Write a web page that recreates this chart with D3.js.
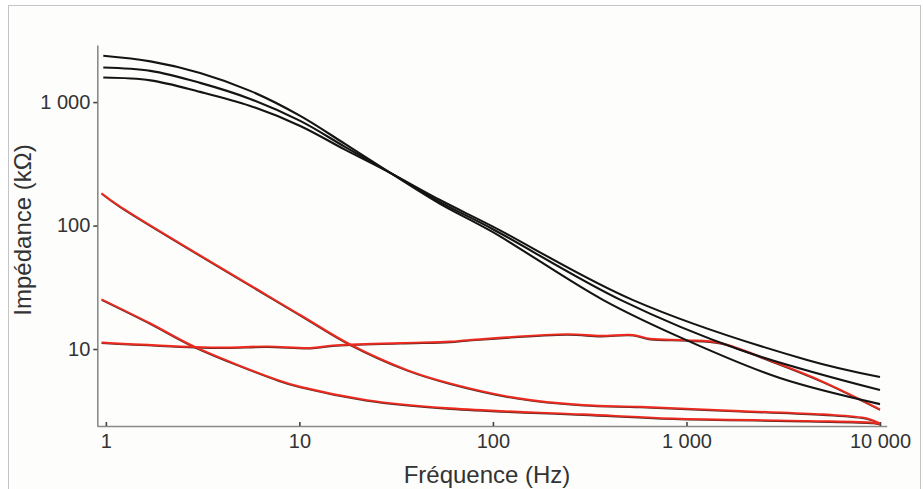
<!DOCTYPE html>
<html lang="fr">
  <head>
    <meta charset="utf-8" />
    <script src="https://d3js.org/d3.v7.min.js"></script>
    <style>
      body { margin: 0; background: #ffffff; }
      svg { display: block; }
      .tick text { font-family: 'Liberation Sans', Arial, sans-serif; fill: #333; }
      .axis-title { font-family: 'Liberation Sans', Arial, sans-serif; fill: #333; }
    </style>
  </head>
  <body>
    <svg id="chart" width="923" height="489"></svg>
    <script>
      // Fréquence (Hz) / impédance (kΩ)
      const xTicks = [1, 10, 100, 1000, 10000];
      const yTicks = [10, 100, 1000];

      // black curves
      const blackA = [
        [0.97, 2370], [1.70, 2138], [3.07, 1724], [5.57, 1233], [10.1, 773],
        [17.2, 458], [29.5, 267], [53.3, 150], [100, 88.4], [372, 24.9],
        [1000, 11.8], [3040, 5.82], [10000, 3.58]
      ];
      const blackB = [
        [0.97, 1905], [1.70, 1790], [3.07, 1431], [5.57, 1061], [10.1, 704],
        [17.2, 434], [29.5, 267], [53.3, 155], [100, 93.4], [459, 24.9],
        [1903, 9.82], [10000, 4.65]
      ];
      const blackC = [
        [0.97, 1580], [1.70, 1500], [3.07, 1210], [5.57, 931], [10.1, 641],
        [17.2, 412], [29.5, 267], [53.3, 161], [100, 98.1], [530, 24.9],
        [4200, 8.15], [10000, 5.93]
      ];

      // red curves
      const redSteep = [
        [0.95, 183], [1.19, 142], [10.1, 18.9], [18.3, 10.9], [36.1, 6.76],
        [60.1, 5.27], [133, 4.01], [293, 3.52], [577, 3.41], [1897, 3.15],
        [5090, 2.96], [8600, 2.74], [10000, 2.5]
      ];
      const redLow = [
        [0.95, 25.3], [1.69, 16.2], [2.89, 10.4], [7.77, 5.6], [10.1, 4.95],
        [22.4, 3.86], [60.1, 3.31], [293, 2.96], [855, 2.74], [4210, 2.62],
        [9230, 2.53], [10000, 2.47]
      ];
      const redFlat = [
        [0.95, 11.3], [2.89, 10.4], [4.2, 10.3], [6.82, 10.5], [11.4, 10.2],
        [14.9, 10.7], [33.3, 11.2], [60.1, 11.5], [73.6, 11.8], [242, 13.2],
        [359, 12.8], [531, 13.0], [650, 12.1], [1000, 11.8], [1496, 11.2],
        [2810, 7.89], [5090, 5.43], [10000, 3.25]
      ];

      const blackSeries = [blackA, blackB, blackC];
      const redSeries = [redSteep, redLow, redFlat];

      const svg = d3.select('#chart');

      // frame of the picture
      svg.append('rect')
        .attr('x', 8.5).attr('y', 5.5)
        .attr('width', 912).attr('height', 490)
        .attr('fill', '#fdfdfb')
        .attr('stroke', '#c4c4c4')
        .attr('stroke-width', 1);

      const x = d3.scaleLog().domain([0.9, 10830]).range([97, 886.7]);
      const y = d3.scaleLog().domain([2.38, 2900]).range([426, 45]);

      const fmt = d3.formatLocale({ decimal: ',', thousands: ' ', grouping: [3], currency: ['', ''] }).format(',');

      const line = d3.line()
        .x(d => x(d[0]))
        .y(d => y(d[1]))
        .curve(d3.curveCatmullRom.alpha(0.5));

      // x axis, ticks pointing inward
      const gx = svg.append('g')
        .attr('transform', 'translate(0,426)')
        .call(d3.axisBottom(x).tickValues(xTicks).tickFormat(fmt).tickSizeInner(-4).tickSizeOuter(0).tickPadding(8));
      gx.select('.domain').attr('stroke', '#8a8a8a').attr('stroke-width', 1.6);
      gx.selectAll('.tick line').attr('stroke', '#444').attr('stroke-width', 1.6);
      gx.selectAll('.tick text').attr('font-size', 20);

      // y axis
      const gy = svg.append('g')
        .attr('transform', 'translate(97.3,0)')
        .call(d3.axisLeft(y).tickValues(yTicks).tickFormat(fmt).tickSizeInner(4).tickSizeOuter(0).tickPadding(3));
      gy.select('.domain').attr('stroke', '#8a8a8a').attr('stroke-width', 1.6);
      gy.selectAll('.tick line').attr('stroke', '#444').attr('stroke-width', 1.6);
      gy.selectAll('.tick text').attr('font-size', 20);

      // axis titles
      svg.append('text')
        .attr('class', 'axis-title')
        .attr('x', 487).attr('y', 483)
        .attr('text-anchor', 'middle')
        .attr('font-size', 24)
        .text('Fréquence (Hz)');

      svg.append('text')
        .attr('class', 'axis-title')
        .attr('transform', 'translate(31,230) rotate(-90)')
        .attr('text-anchor', 'middle')
        .attr('font-size', 24)
        .text('Impédance (kΩ)');

      // red curves: thin dark edge under a red stroke
      const plot = svg.append('g');
      plot.selectAll('path.red-edge')
        .data(redSeries)
        .join('path')
        .attr('class', 'red-edge')
        .attr('transform', 'translate(0,0.9)')
        .attr('d', line)
        .attr('fill', 'none')
        .attr('stroke', '#5a2a24')
        .attr('stroke-width', 1.4);
      plot.selectAll('path.red')
        .data(redSeries)
        .join('path')
        .attr('class', 'red')
        .attr('d', line)
        .attr('fill', 'none')
        .attr('stroke', '#ec2a1f')
        .attr('stroke-width', 1.9);

      // black curves
      plot.selectAll('path.black')
        .data(blackSeries)
        .join('path')
        .attr('class', 'black')
        .attr('d', line)
        .attr('fill', 'none')
        .attr('stroke', '#141414')
        .attr('stroke-width', 2.1);
    </script>
  </body>
</html>
